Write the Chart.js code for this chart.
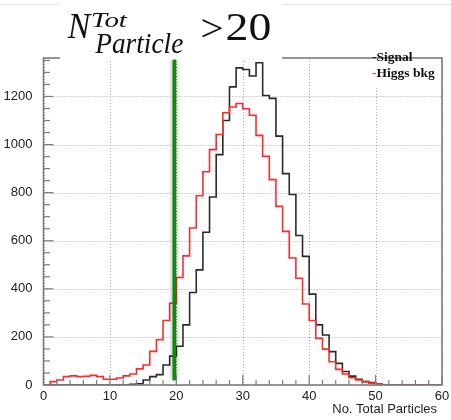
<!DOCTYPE html>
<html><head><meta charset="utf-8">
<script src="https://cdn.jsdelivr.net/npm/chart.js@4/dist/chart.umd.min.js"></script>
<style>html,body{margin:0;padding:0;background:#fff;}canvas{display:block;}</style>
</head><body>
<canvas id="c" width="451" height="420"></canvas>
<script>
// ---- data (bin width 1, bins 0..59) ----
const binEdges = [0,1,2,3,4,5,6,7,8,9,10,11,12,13,14,15,16,17,18,19,20,21,22,23,24,25,26,27,28,29,30,
  31,32,33,34,35,36,37,38,39,40,41,42,43,44,45,46,47,48,49,50,51,52,53,54,55,56,57,58,59,60];
const signalCounts = [0,0,0,0,0,0,0,0,0,0, 0,0,0,0,3,5,21,35,43,83,
  120,161,250,385,479,635,782,958,1100,1240, 1319,1312,1285,1340,1204,1192,1035,879,792,622,
  535,378,250,208,139,90,56,37,24,14, 10,4,1,0,0,0,0,0,0,0];
const higgsBkgCounts = [0,0,14,21,35,38,35,36,40,35, 24,24,29,38,46,67,83,140,188,268,
  340,447,537,653,787,887,979,1042,1132,1156, 1171,1149,1122,1038,951,854,743,639,528,444,
  337,268,194,149,97,65,46,30,21,14, 8,4,1,0,0,0,0,0,0,0];
const xTickLabels = [0,10,20,30,40,50,60];
const yTickLabels = [0,200,400,600,800,1000,1200];
const xMinorStep = 2;
const yMinorStep = 50;
const cutValue = 19.7;
const cutSpan = [20, 1355];
const seriesNames = ['Signal', 'Higgs bkg'];
const xTitle = 'No. Total Particles';

function stepPoints(counts) {
  const pts = counts.map((v, i) => ({x: binEdges[i], y: v}));
  pts.push({x: binEdges[counts.length], y: counts[counts.length - 1]});
  return pts;
}

function fitInk(ctx, text, left, right, baseline, font) {
  ctx.font = font;
  const m = ctx.measureText(text);
  const ink = m.actualBoundingBoxLeft + m.actualBoundingBoxRight;
  const s = (right - left) / ink;
  ctx.save();
  ctx.translate(left + s * m.actualBoundingBoxLeft, baseline);
  ctx.scale(s, 1);
  ctx.fillText(text, 0, 0);
  ctx.restore();
}

const rootPlugin = {
  id: 'rootStyle',
  beforeDatasetsDraw(chart) {
    const {ctx, chartArea: a, scales: {x, y}} = chart;
    ctx.save();
    ctx.strokeStyle = '#a8a8a8';
    ctx.lineWidth = 1;
    ctx.setLineDash([1, 2]);
    xTickLabels.forEach(v => {
      const px = Math.round(x.getPixelForValue(v)) + 0.5;
      ctx.beginPath(); ctx.moveTo(px, a.top); ctx.lineTo(px, a.bottom); ctx.stroke();
    });
    yTickLabels.forEach(v => {
      const py = Math.round(y.getPixelForValue(v)) + 0.5;
      ctx.beginPath(); ctx.moveTo(a.left, py); ctx.lineTo(a.right, py); ctx.stroke();
    });
    ctx.restore();
  },
  beforeDatasetDraw(chart, args) {
    if (args.index === 2) {
      chart.ctx.save();
      chart.ctx.shadowColor = 'rgba(0,0,0,0.45)';
      chart.ctx.shadowBlur = 4;
    }
  },
  afterDatasetDraw(chart, args) {
    if (args.index === 2) chart.ctx.restore();
  },
  afterDraw(chart) {
    const {ctx, chartArea: a, scales: {x, y}} = chart;
    ctx.save();
    // ticks
    ctx.strokeStyle = '#7c7c7c';
    ctx.lineWidth = 1.2;
    for (let v = x.min; v <= x.max; v += xMinorStep) {
      const px = x.getPixelForValue(v);
      const len = (v % 10 === 0) ? 10 : 5;
      ctx.beginPath(); ctx.moveTo(px, a.bottom); ctx.lineTo(px, a.bottom - len); ctx.stroke();
    }
    for (let v = y.min; v <= y.max; v += yMinorStep) {
      const py = y.getPixelForValue(v);
      const len = (v % 200 === 0) ? 10 : 6.5;
      ctx.beginPath(); ctx.moveTo(a.left, py); ctx.lineTo(a.left + len, py); ctx.stroke();
    }
    // frame
    ctx.lineWidth = 1.6;
    ctx.strokeRect(a.left, a.top, a.right - a.left, a.bottom - a.top);
    // faint top line
    ctx.strokeStyle = '#e4e4e4';
    ctx.lineWidth = 1;
    ctx.beginPath(); ctx.moveTo(0, 4.5); ctx.lineTo(451, 4.5); ctx.stroke();
    // title box
    ctx.fillStyle = '#fff';
    ctx.fillRect(60, 0, 222, 59.5);
    ctx.fillStyle = '#111';
    fitInk(ctx, 'N', 66.7, 91.7, 38, 'italic 35px "Liberation Serif"');
    fitInk(ctx, 'Tot', 92.3, 128, 26.7, 'italic 22px "Liberation Serif"');
    fitInk(ctx, 'Particle', 94.3, 183, 52.7, 'italic 30px "Liberation Serif"');
    fitInk(ctx, '>', 201.7, 222.7, 41, '37px "Liberation Serif"');
    fitInk(ctx, '20', 226.7, 270.7, 40, '39px "Liberation Serif"');
    // legend
    ctx.fillStyle = '#fff';
    ctx.fillRect(366, a.top + 1, a.right - 367, 28);
    ctx.font = 'bold 13.5px "Liberation Serif"';
    ctx.textBaseline = 'alphabetic';
    const legendColors = ['#1a1a1a', '#ff2b2b'];
    const baselines = [60.5, 77];
    seriesNames.forEach((name, i) => {
      ctx.fillStyle = legendColors[i];
      ctx.fillText('-', 372, baselines[i]);
      const w = ctx.measureText('-').width;
      ctx.fillStyle = '#111';
      ctx.fillText(name, 372 + w, baselines[i]);
    });
    // x title
    ctx.font = '13px "Liberation Sans"';
    ctx.fillStyle = '#222';
    ctx.textAlign = 'right';
    ctx.fillText(xTitle, 437, 412.5);
    ctx.restore();
  }
};

new Chart(document.getElementById('c'), {
  type: 'line',
  data: {
    datasets: [
      {label: seriesNames[1], data: stepPoints(higgsBkgCounts), borderColor: '#ff2b2b', borderWidth: 1.6,
       stepped: 'after', pointRadius: 0, fill: false, order: 1},
      {label: seriesNames[0], data: stepPoints(signalCounts), borderColor: '#2b2b2b', borderWidth: 1.6,
       stepped: 'after', pointRadius: 0, fill: false, order: 2},
      {label: 'cut', data: [{x: cutValue, y: cutSpan[0]}, {x: cutValue, y: cutSpan[1]}], borderColor: '#0b8a0b',
       borderWidth: 3.6, pointRadius: 0, fill: false, order: 0}
    ]
  },
  options: {
    responsive: false,
    animation: false,
    devicePixelRatio: 1,
    layout: {padding: {left: 0, right: 9, top: 58, bottom: 0}},
    plugins: {legend: {display: false}, tooltip: {enabled: false}},
    scales: {
      x: {
        type: 'linear', min: 0, max: 60,
        afterFit(s) { s.height = 35; },
        afterBuildTicks(s) { s.ticks = xTickLabels.map(v => ({value: v})); },
        grid: {display: false}, border: {display: false},
        ticks: {padding: -4, color: '#222', maxRotation: 0, autoSkip: false,
                callback: v => String(v), font: {family: 'Liberation Sans', size: 13}}
      },
      y: {
        type: 'linear', min: 0, max: 1360,
        afterFit(s) { s.width = 43.5; },
        afterBuildTicks(s) { s.ticks = yTickLabels.map(v => ({value: v})); },
        grid: {display: false}, border: {display: false},
        ticks: {padding: 3, color: '#222', autoSkip: false,
                callback: v => String(v), font: {family: 'Liberation Sans', size: 13}}
      }
    }
  },
  plugins: [rootPlugin]
});
</script>
</body></html>
